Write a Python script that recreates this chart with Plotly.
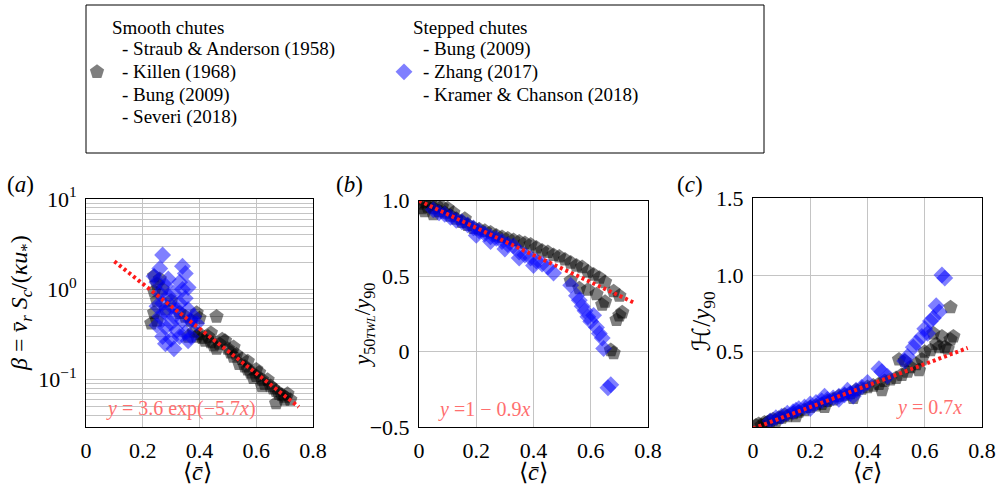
import plotly.graph_objects as go

# ---------------- data ----------------
a_gray_x = [0.24,0.25,0.26,0.24,0.27,0.25,0.23,0.25,0.24,0.28,0.30,0.33,0.35,0.37,0.39,0.40,0.46,0.36,0.38,0.39,0.40,0.41,0.42,0.43,0.44,0.45,0.46,0.47,0.48,0.49,0.50,0.51,0.52,0.53,0.54,0.55,0.56,0.57,0.58,0.59,0.60,0.61,0.62,0.63,0.64,0.65,0.66,0.67,0.68,0.69,0.70,0.71,0.72,0.67,0.70,0.62,0.57,0.52,0.44,0.60]
a_gray_y = [1.40,1.15,1.30,0.95,1.00,0.75,0.42,0.45,0.55,0.60,0.75,0.55,0.50,0.45,0.55,0.48,0.50,0.30,0.34,0.30,0.32,0.29,0.27,0.30,0.26,0.24,0.22,0.25,0.28,0.27,0.22,0.20,0.18,0.19,0.15,0.17,0.14,0.13,0.12,0.105,0.11,0.12,0.10,0.09,0.10,0.085,0.08,0.075,0.07,0.068,0.065,0.07,0.06,0.055,0.06,0.085,0.16,0.23,0.33,0.13]
a_blue_x = [0.27,0.34,0.35,0.26,0.24,0.25,0.28,0.33,0.34,0.26,0.29,0.31,0.35,0.27,0.30,0.33,0.36,0.38,0.26,0.28,0.31,0.34,0.37,0.39,0.25,0.28,0.32,0.35,0.37,0.27,0.30,0.33,0.31,0.28,0.36,0.30,0.32,0.29,0.25,0.36]
a_blue_y = [2.40,1.80,1.50,1.70,1.40,1.20,1.10,1.20,1.00,0.90,0.85,0.90,0.80,0.70,0.65,0.70,0.60,0.50,0.50,0.55,0.50,0.45,0.45,0.42,0.40,0.38,0.35,0.33,0.30,0.30,0.28,0.30,0.22,0.25,0.27,0.42,0.60,1.30,0.65,1.05]

b_gray_x = [0.00,0.01,0.02,0.03,0.04,0.05,0.06,0.07,0.08,0.09,0.10,0.11,0.13,0.15,0.17,0.19,0.21,0.23,0.25,0.27,0.29,0.31,0.33,0.35,0.37,0.39,0.41,0.43,0.45,0.47,0.49,0.51,0.53,0.55,0.57,0.59,0.61,0.63,0.65,0.53,0.56,0.59,0.62,0.64,0.65,0.68,0.70,0.69,0.70,0.71,0.67,0.68,0.02,0.05,0.12,0.16]
b_gray_y = [0.98,0.95,0.99,0.96,0.99,0.95,0.97,0.93,0.96,0.92,0.95,0.90,0.88,0.86,0.84,0.82,0.81,0.80,0.79,0.77,0.76,0.75,0.74,0.73,0.72,0.71,0.69,0.67,0.66,0.64,0.63,0.61,0.59,0.57,0.56,0.53,0.51,0.49,0.46,0.47,0.42,0.41,0.38,0.31,0.33,0.40,0.37,0.21,0.24,0.26,0.01,-0.01,0.93,0.91,0.92,0.88]
b_blue_x = [0.05,0.07,0.09,0.11,0.13,0.15,0.17,0.19,0.21,0.23,0.25,0.27,0.29,0.31,0.33,0.35,0.37,0.39,0.41,0.43,0.45,0.47,0.35,0.40,0.20,0.30,0.25,0.53,0.55,0.56,0.57,0.58,0.59,0.60,0.61,0.62,0.63,0.64,0.645,0.66,0.67]
b_blue_y = [0.94,0.92,0.91,0.89,0.87,0.86,0.84,0.82,0.80,0.78,0.76,0.75,0.73,0.71,0.70,0.66,0.64,0.62,0.60,0.58,0.56,0.52,0.62,0.57,0.77,0.68,0.73,0.44,0.37,0.34,0.30,0.27,0.23,0.20,0.24,0.16,0.12,0.09,0.02,-0.24,-0.22]

c_gray_x = [0.01,0.02,0.03,0.04,0.05,0.06,0.07,0.08,0.09,0.10,0.11,0.12,0.14,0.16,0.18,0.20,0.22,0.24,0.26,0.28,0.30,0.32,0.34,0.36,0.38,0.40,0.42,0.44,0.46,0.48,0.50,0.52,0.54,0.51,0.53,0.55,0.57,0.59,0.60,0.62,0.63,0.64,0.65,0.66,0.67,0.68,0.69,0.70,0.69,0.58,0.45,0.35,0.25,0.15]
c_gray_y = [0.02,0.03,0.02,0.04,0.04,0.05,0.06,0.05,0.07,0.07,0.09,0.08,0.10,0.11,0.12,0.14,0.15,0.16,0.18,0.19,0.21,0.22,0.23,0.25,0.26,0.27,0.28,0.29,0.31,0.32,0.33,0.35,0.37,0.45,0.44,0.40,0.42,0.45,0.50,0.51,0.62,0.55,0.53,0.60,0.53,0.52,0.79,0.60,0.58,0.38,0.25,0.20,0.14,0.08]
c_blue_x = [0.06,0.08,0.10,0.12,0.14,0.16,0.18,0.20,0.22,0.24,0.26,0.28,0.30,0.32,0.34,0.36,0.38,0.40,0.44,0.45,0.47,0.53,0.54,0.56,0.57,0.59,0.60,0.61,0.62,0.63,0.64,0.65,0.66,0.67,0.25,0.30,0.33,0.20,0.15,0.35]
c_blue_y = [0.05,0.07,0.08,0.10,0.11,0.13,0.14,0.16,0.17,0.18,0.19,0.20,0.21,0.22,0.23,0.25,0.27,0.30,0.39,0.37,0.34,0.44,0.47,0.53,0.56,0.60,0.65,0.62,0.70,0.72,0.80,0.76,1.00,0.98,0.21,0.19,0.25,0.13,0.12,0.21]

# fitted lines (end points)
fit_a_x = [0.10, 0.75]; fit_a_y = [2.04, 0.050]
fit_b_x = [0.00, 0.75]; fit_b_y = [1.00, 0.325]
fit_c_x = [0.00, 0.75]; fit_c_y = [0.00, 0.525]

smooth_names = ["- Straub &amp; Anderson (1958)", "- Killen (1968)", "- Bung (2009)", "- Severi (2018)"]
stepped_names = ["- Bung (2009)", "- Zhang (2017)", "- Kramer &amp; Chanson (2018)"]

# ---------------- styling ----------------
FONT = "Liberation Serif"
GRAY = "rgba(0,0,0,0.5)"
BLUE = "rgba(0,0,255,0.5)"
FITC = "#ff1a1a"
ANNC = "#ff6f6f"
W, H = 1000, 489

def px(x):
    return x / W

def py(y):
    return 1 - y / H

fig = go.Figure()

panels = [
    ("x", "y", a_gray_x, a_gray_y, a_blue_x, a_blue_y, fit_a_x, fit_a_y),
    ("x2", "y2", b_gray_x, b_gray_y, b_blue_x, b_blue_y, fit_b_x, fit_b_y),
    ("x3", "y3", c_gray_x, c_gray_y, c_blue_x, c_blue_y, fit_c_x, fit_c_y),
]
for i, (xa, ya, gx, gy, bx, by, fx, fy) in enumerate(panels):
    fig.add_trace(go.Scatter(x=gx, y=gy, xaxis=xa, yaxis=ya, mode="markers",
                             name="\u00a0", legendgroup="k", showlegend=(i == 0),
                             marker=dict(symbol="pentagon", size=15, color=GRAY, line=dict(width=0))))
    fig.add_trace(go.Scatter(x=bx, y=by, xaxis=xa, yaxis=ya, mode="markers",
                             name="\u00a0", legendgroup="z", showlegend=(i == 0),
                             marker=dict(symbol="diamond", size=13, color=BLUE, line=dict(width=0))))
    fig.add_trace(go.Scatter(x=fx, y=fy, xaxis=xa, yaxis=ya, mode="lines", showlegend=False,
                             line=dict(color=FITC, width=4, dash="3px,3px")))

tickfont = dict(family=FONT, size=22, color="black")
common_x = dict(range=[0, 0.8], tickvals=[0, 0.2, 0.4, 0.6, 0.8], ticktext=["0", "0.2", "0.4", "0.6", "0.8"],
                showgrid=True, gridcolor="#c4c4c4", gridwidth=1, zeroline=False,
                showline=True, linecolor="black", linewidth=1, mirror=True, ticks="",
                tickfont=tickfont, ticklabelstandoff=4, automargin=False)
common_y = dict(showgrid=True, gridcolor="#c4c4c4", gridwidth=1, zeroline=False,
                showline=True, linecolor="black", linewidth=1, mirror=True, ticks="",
                tickfont=tickfont, ticklabelstandoff=4, automargin=False)

bot = py(427)
minor_vals = [v * m for v in (0.01, 0.1, 1) for m in range(2, 10) if v * m > 0.03]
fig.update_layout(
    width=W, height=H, margin=dict(l=0, r=0, t=0, b=0, autoexpand=False),
    plot_bgcolor="white", paper_bgcolor="white",
    font=dict(family=FONT, color="black"),
    xaxis=dict(domain=[px(86), px(313)], anchor="y", **common_x),
    yaxis=dict(domain=[bot, py(199)], anchor="x", type="log", range=[-1.523, 1.0],
               tickmode="array", tickvals=[0.1, 1, 10],
               ticktext=["10<sup>\u22121</sup>", "10<sup>0</sup>", "10<sup>1</sup>"],
               minor=dict(tickmode="array", tickvals=minor_vals, showgrid=True,
                          gridcolor="#c4c4c4", gridwidth=1, ticks=""),
               **common_y),
    xaxis2=dict(domain=[px(419), px(648)], anchor="y2", **common_x),
    yaxis2=dict(domain=[bot, py(200.7)], anchor="x2", range=[-0.5, 1.0],
                tickvals=[-0.5, 0, 0.5, 1.0], ticktext=["\u22120.5", "0", "0.5", "1.0"], **common_y),
    xaxis3=dict(domain=[px(753), px(982)], anchor="y3", **common_x),
    yaxis3=dict(domain=[bot, py(198.3)], anchor="x3", range=[0.01, 1.5],
                tickvals=[0.5, 1.0, 1.5], ticktext=["0.5", "1.0", "1.5"], **common_y),
    legend=dict(orientation="h", x=px(77), xanchor="left", y=py(72), yanchor="middle",
                bgcolor="rgba(0,0,0,0)", borderwidth=0, entrywidth=262, entrywidthmode="pixels",
                font=dict(family=FONT, size=19, color="black"), itemsizing="trace",
                tracegroupgap=0),
)

# legend frame
fig.add_shape(type="rect", xref="paper", yref="paper", x0=px(86), x1=px(764), y0=py(153), y1=py(5),
              line=dict(color="black", width=1), fillcolor="rgba(0,0,0,0)", layer="above")

ann = []
def text(x, y, t, size=19, color="black", xanchor="left", angle=0, yanchor="middle"):
    ann.append(dict(x=px(x), y=py(y), xref="paper", yref="paper", text=t, showarrow=False,
                    xanchor=xanchor, yanchor=yanchor, textangle=angle,
                    font=dict(family=FONT, size=size, color=color)))

row_y = [27, 49.5, 72, 94.5, 117]
text(110, row_y[0], "Smooth chutes")
text(411, row_y[0], "Stepped chutes")
for k, nm in enumerate(smooth_names):
    text(120, row_y[k + 1], nm)
for k, nm in enumerate(stepped_names):
    text(421, row_y[k + 1], nm)

# panel labels
text(20, 185, "(<i>a</i>)", size=23, xanchor="center")
text(349, 185, "(<i>b</i>)", size=23, xanchor="center")
text(690, 185, "(<i>c</i>)", size=23, xanchor="center")

# axis titles
xt = "\u27e8<i>c\u0304</i>\u27e9"
text(197, 472, xt, size=24, xanchor="center")
text(533.5, 472, xt, size=24, xanchor="center")
text(867.5, 472, xt, size=24, xanchor="center")
text(21, 373, "<i>\u03b2</i> = <i>v\u0304</i><sub><i>r</i></sub> <i>S</i><sub><i>c</i></sub>/(<i>\u03bau</i><sub>*</sub>)",
     size=24, xanchor="center", angle=-90, yanchor="bottom")
text(364, 369, "<i>y</i><sub>50<span style=\"font-size:12px\"><i>TWL</i></span></sub>/<i>y</i><sub>90</sub>",
     size=23, xanchor="center", angle=-90, yanchor="bottom")
text(702, 354, "<span style=\"font-family:'DejaVu Sans'\">\u210b</span>/<i>y</i><sub>90</sub>",
     size=25, xanchor="center", angle=-90, yanchor="bottom")

# fit annotations
text(181, 408, "<i>y</i> = 3.6 exp(\u22125.7<i>x</i>)", size=20, color=ANNC, xanchor="center")
text(484, 409, "<i>y</i> =1 \u2212 0.9<i>x</i>", size=20, color=ANNC, xanchor="center")
text(929, 407, "<i>y</i> = 0.7<i>x</i>", size=20, color=ANNC, xanchor="center")

fig.update_layout(annotations=ann)
fig.write_html("out.html", config={"displayModeBar": False},
               post_script="document.body.style.margin='0';document.body.style.padding='0';")
